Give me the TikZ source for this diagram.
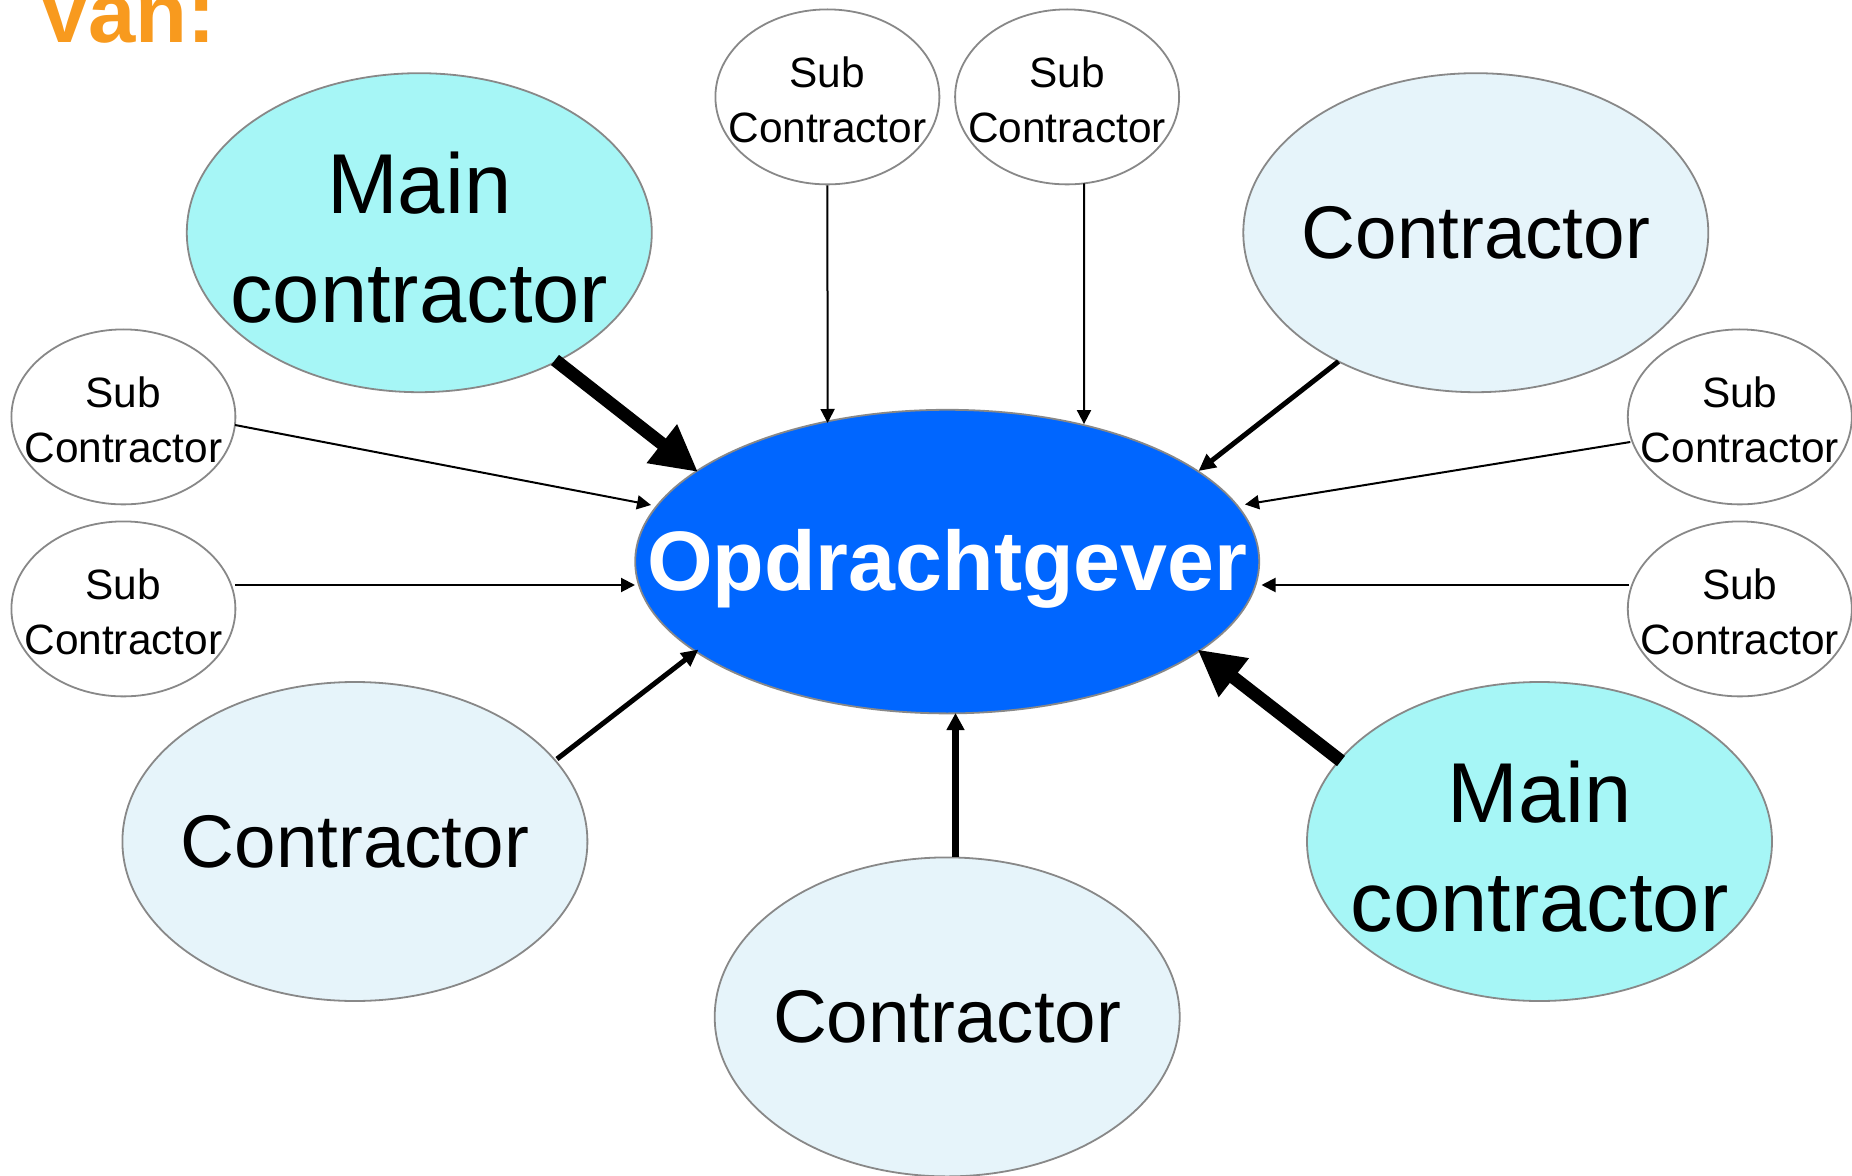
\documentclass[tikz,border=0pt]{standalone}
\usepackage{fontspec}
\setmainfont{Liberation Sans}
\usetikzlibrary{arrows.meta,shapes.geometric,calc}
\definecolor{centerblue}{HTML}{0066FF}
\definecolor{maincyan}{HTML}{A6F6F6}
\definecolor{contrpale}{HTML}{E6F4FA}
\definecolor{edgegray}{HTML}{888888}
\definecolor{vanorange}{HTML}{F89A1E}
\begin{document}
\begin{tikzpicture}[x=0.5pt,y=-0.5pt,
  ellbase/.style={ellipse, draw=edgegray, line width=0.9pt, inner sep=0pt},
  centerell/.style={ellbase, fill=centerblue, minimum width=312pt, minimum height=151.8pt},
  mainell/.style={ellbase, fill=maincyan, minimum width=232.5pt, minimum height=159.5pt},
  contrell/.style={ellbase, fill=contrpale, minimum width=232.5pt, minimum height=159.5pt},
  subell/.style={ellbase, fill=white, minimum width=112pt, minimum height=87.5pt},
  subtxt/.style={align=center, inner sep=0pt, font=\fontsize{21.2}{27.6}\selectfont},
  maintxt/.style={align=center, inner sep=0pt, font=\fontsize{42.5}{54.5}\selectfont},
  contrtxt/.style={inner sep=0pt, font=\fontsize{37.3}{44}\selectfont},
  centertxt/.style={inner sep=0pt, text=white, font=\fontsize{42.2}{50}\selectfont\bfseries},
  vantxt/.style={inner sep=0pt, anchor=base west, text=vanorange, font=\fontsize{42.5}{50}\selectfont\bfseries},
  thickarr/.style={line width=6.5pt, -{Triangle[length=23pt,width=23pt]}},
  medarr/.style={line width=2.5pt, -{Triangle[length=8.5pt,width=8pt]}},
  vmedarr/.style={line width=3.2pt, -{Triangle[length=8.5pt,width=8.5pt]}},
  thinarr/.style={line width=1pt, -{Triangle[length=7pt,width=7pt]}}
]
\useasboundingbox (0,0) rectangle (1852,1176);

% ellipses
\node[centerell] (o) at (947.2,561.6) {};
\node[mainell] (mc1) at (419.3,232.7) {};
\node[contrell] (c1) at (1475.8,232.7) {};
\node[subell] (st1) at (827.4,96.9) {};
\node[subell] (st2) at (1067.1,96.9) {};
\node[subell] (sl1) at (123.4,416.9) {};
\node[subell] (sl2) at (123.4,608.9) {};
\node[subell] (sr1) at (1739.8,416.9) {};
\node[subell] (sr2) at (1739.8,608.9) {};
\node[contrell] (c2) at (354.9,841.5) {};
\node[mainell] (mc2) at (1539.5,841.5) {};
\node[contrell] (c3) at (947.2,1016.9) {};

% texts
\node[centertxt] (to) at ($(o)+(0,7)$) {Opdrachtgever};
\node[maintxt] (tmc1) at ($(mc1)+(0,5)$) {Main\\contractor};
\node[maintxt] (tmc2) at ($(mc2)+(0,5)$) {Main\\contractor};
\node[contrtxt] (tc1) at (c1) {Contractor};
\node[contrtxt] (tc2) at (c2) {Contractor};
\node[contrtxt] (tc3) at (c3) {Contractor};
\node[subtxt] (tst1) at ($(st1)+(0,3)$) {Sub\\Contractor};
\node[subtxt] (tst2) at ($(st2)+(0,3)$) {Sub\\Contractor};
\node[subtxt] (tsl1) at ($(sl1)+(0,3)$) {Sub\\Contractor};
\node[subtxt] (tsl2) at ($(sl2)+(0,3)$) {Sub\\Contractor};
\node[subtxt] (tsr1) at ($(sr1)+(0,3)$) {Sub\\Contractor};
\node[subtxt] (tsr2) at ($(sr2)+(0,3)$) {Sub\\Contractor};
\node[vantxt] (van) at (36,43) {Van:};

% connectors
\draw[thickarr] ($(mc1)+(135.7,127.3)$) -- ($(o)+(-249.2,-89.6)$);
\draw[thickarr] ($(mc2)+(-198.5,-80.5)$) -- ($(o)+(250.3,87.9)$);
\draw[thinarr] (st1.south) -- ($(o)+(-119.6,-138.6)$);
\draw[thinarr] ($(st2)+(17,86.5)$) -- ($(o)+(136.8,-137.5)$);
\draw[medarr] ($(c1)+(-137.3,128.8)$) -- ($(o)+(251.3,-90.6)$);
\draw[medarr] ($(c2)+(202.1,-82.5)$) -- ($(o)+(-248.7,87.9)$);
\draw[vmedarr] ($(c3)+(8.3,-159.9)$) -- ($(o)+(8.3,151.4)$);
\draw[thinarr] ($(sr1)+(-109.5,25.1)$) -- ($(o)+(297.8,-57.1)$);
\draw[thinarr] ($(sr2)+(-110.8,-23.9)$) -- ($(o)+(314.3,23.4)$);
\draw[thinarr] ($(sl1)+(111.6,8.1)$) -- ($(o)+(-296.2,-56.6)$);
\draw[thinarr] ($(sl2)+(111.6,-23.9)$) -- ($(o)+(-312.2,23.4)$);
\end{tikzpicture}
\end{document}
